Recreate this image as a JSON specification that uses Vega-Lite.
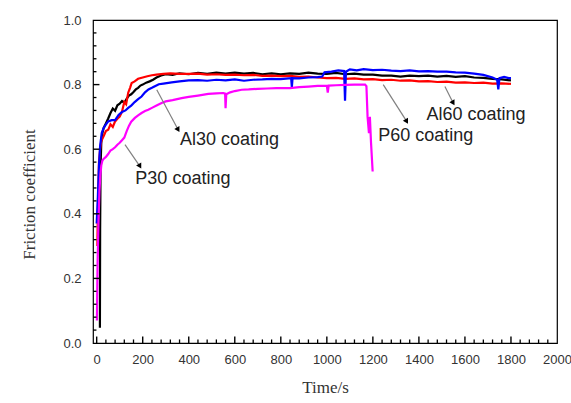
{
  "$schema": "https://vega.github.io/schema/vega-lite/v6.json",
  "width": 464,
  "height": 323,
  "autosize": "none",
  "padding": {"left": 93, "top": 20, "right": 14, "bottom": 60},
  "background": "white",
  "config": {"view": {"stroke": "#000", "strokeWidth": 1.2}},
  "datasets": {
    "black": [
      {"t":14,"v":0.047},{"t":15,"v":0.35},{"t":17,"v":0.55},{"t":20,"v":0.62},{"t":25,"v":0.65},{"t":30,"v":0.665},{"t":40,"v":0.68},{"t":50,"v":0.695},{"t":60,"v":0.712},{"t":70,"v":0.726},{"t":80,"v":0.719},{"t":90,"v":0.736},{"t":100,"v":0.741},{"t":110,"v":0.749},{"t":120,"v":0.744},{"t":130,"v":0.756},{"t":140,"v":0.766},{"t":150,"v":0.77},{"t":160,"v":0.777},{"t":170,"v":0.785},{"t":180,"v":0.79},{"t":190,"v":0.797},{"t":200,"v":0.8},{"t":215,"v":0.806},{"t":230,"v":0.81},{"t":245,"v":0.815},{"t":260,"v":0.822},{"t":280,"v":0.828},{"t":300,"v":0.832},{"t":330,"v":0.83},{"t":360,"v":0.835},{"t":400,"v":0.832},{"t":440,"v":0.836},{"t":480,"v":0.833},{"t":520,"v":0.837},{"t":560,"v":0.834},{"t":600,"v":0.837},{"t":640,"v":0.834},{"t":680,"v":0.836},{"t":720,"v":0.832},{"t":760,"v":0.835},{"t":800,"v":0.832},{"t":840,"v":0.835},{"t":880,"v":0.833},{"t":920,"v":0.837},{"t":960,"v":0.834},{"t":1000,"v":0.833},{"t":1040,"v":0.836},{"t":1080,"v":0.832},{"t":1120,"v":0.834},{"t":1160,"v":0.831},{"t":1200,"v":0.831},{"t":1240,"v":0.828},{"t":1280,"v":0.828},{"t":1320,"v":0.825},{"t":1360,"v":0.828},{"t":1400,"v":0.826},{"t":1440,"v":0.828},{"t":1480,"v":0.825},{"t":1520,"v":0.827},{"t":1560,"v":0.824},{"t":1600,"v":0.826},{"t":1640,"v":0.822},{"t":1680,"v":0.821},{"t":1720,"v":0.818},{"t":1760,"v":0.816},{"t":1800,"v":0.813}
    ],
    "red": [
      {"t":3,"v":0.3},{"t":6,"v":0.45},{"t":10,"v":0.56},{"t":15,"v":0.6},{"t":20,"v":0.625},{"t":30,"v":0.64},{"t":40,"v":0.656},{"t":50,"v":0.66},{"t":60,"v":0.677},{"t":70,"v":0.669},{"t":80,"v":0.686},{"t":90,"v":0.694},{"t":100,"v":0.701},{"t":110,"v":0.716},{"t":120,"v":0.746},{"t":128,"v":0.739},{"t":137,"v":0.775},{"t":145,"v":0.79},{"t":152,"v":0.805},{"t":165,"v":0.81},{"t":180,"v":0.818},{"t":200,"v":0.822},{"t":220,"v":0.826},{"t":240,"v":0.829},{"t":260,"v":0.831},{"t":290,"v":0.833},{"t":320,"v":0.835},{"t":360,"v":0.833},{"t":400,"v":0.833},{"t":440,"v":0.834},{"t":480,"v":0.831},{"t":520,"v":0.832},{"t":560,"v":0.83},{"t":600,"v":0.831},{"t":640,"v":0.829},{"t":680,"v":0.83},{"t":720,"v":0.827},{"t":760,"v":0.828},{"t":800,"v":0.826},{"t":840,"v":0.827},{"t":880,"v":0.824},{"t":920,"v":0.825},{"t":960,"v":0.822},{"t":1000,"v":0.82},{"t":1040,"v":0.821},{"t":1080,"v":0.818},{"t":1120,"v":0.819},{"t":1160,"v":0.816},{"t":1200,"v":0.817},{"t":1240,"v":0.814},{"t":1280,"v":0.815},{"t":1320,"v":0.812},{"t":1360,"v":0.813},{"t":1400,"v":0.81},{"t":1440,"v":0.811},{"t":1480,"v":0.808},{"t":1520,"v":0.809},{"t":1560,"v":0.806},{"t":1600,"v":0.807},{"t":1640,"v":0.805},{"t":1680,"v":0.806},{"t":1720,"v":0.803},{"t":1760,"v":0.804},{"t":1800,"v":0.802}
    ],
    "blue": [
      {"t":0,"v":0.37},{"t":5,"v":0.45},{"t":10,"v":0.55},{"t":15,"v":0.61},{"t":22,"v":0.65},{"t":30,"v":0.665},{"t":36,"v":0.672},{"t":50,"v":0.686},{"t":65,"v":0.69},{"t":80,"v":0.69},{"t":95,"v":0.706},{"t":110,"v":0.715},{"t":125,"v":0.72},{"t":137,"v":0.728},{"t":150,"v":0.735},{"t":165,"v":0.746},{"t":180,"v":0.755},{"t":195,"v":0.763},{"t":210,"v":0.776},{"t":225,"v":0.785},{"t":240,"v":0.79},{"t":253,"v":0.795},{"t":270,"v":0.801},{"t":290,"v":0.803},{"t":326,"v":0.807},{"t":360,"v":0.81},{"t":400,"v":0.813},{"t":440,"v":0.814},{"t":480,"v":0.812},{"t":520,"v":0.815},{"t":560,"v":0.813},{"t":600,"v":0.816},{"t":640,"v":0.812},{"t":680,"v":0.815},{"t":720,"v":0.816},{"t":760,"v":0.818},{"t":800,"v":0.817},{"t":845,"v":0.82},{"t":848,"v":0.792},{"t":851,"v":0.82},{"t":880,"v":0.819},{"t":920,"v":0.822},{"t":960,"v":0.823},{"t":980,"v":0.825},{"t":990,"v":0.838},{"t":1020,"v":0.84},{"t":1050,"v":0.844},{"t":1075,"v":0.842},{"t":1079,"v":0.75},{"t":1083,"v":0.84},{"t":1100,"v":0.847},{"t":1130,"v":0.844},{"t":1160,"v":0.848},{"t":1200,"v":0.845},{"t":1240,"v":0.846},{"t":1280,"v":0.843},{"t":1320,"v":0.842},{"t":1360,"v":0.844},{"t":1400,"v":0.841},{"t":1440,"v":0.842},{"t":1480,"v":0.84},{"t":1520,"v":0.84},{"t":1560,"v":0.838},{"t":1600,"v":0.837},{"t":1640,"v":0.834},{"t":1680,"v":0.83},{"t":1720,"v":0.822},{"t":1740,"v":0.815},{"t":1745,"v":0.785},{"t":1750,"v":0.82},{"t":1770,"v":0.824},{"t":1790,"v":0.82},{"t":1800,"v":0.82}
    ],
    "magenta": [
      {"t":1,"v":0.07},{"t":4,"v":0.25},{"t":8,"v":0.38},{"t":12,"v":0.47},{"t":16,"v":0.52},{"t":20,"v":0.55},{"t":25,"v":0.565},{"t":30,"v":0.57},{"t":40,"v":0.576},{"t":50,"v":0.585},{"t":60,"v":0.596},{"t":70,"v":0.6},{"t":80,"v":0.606},{"t":90,"v":0.614},{"t":100,"v":0.62},{"t":110,"v":0.628},{"t":120,"v":0.636},{"t":130,"v":0.655},{"t":140,"v":0.672},{"t":150,"v":0.685},{"t":166,"v":0.697},{"t":180,"v":0.705},{"t":195,"v":0.712},{"t":210,"v":0.718},{"t":224,"v":0.722},{"t":240,"v":0.728},{"t":260,"v":0.735},{"t":282,"v":0.743},{"t":300,"v":0.748},{"t":330,"v":0.752},{"t":369,"v":0.758},{"t":400,"v":0.762},{"t":440,"v":0.766},{"t":485,"v":0.771},{"t":520,"v":0.773},{"t":550,"v":0.774},{"t":558,"v":0.772},{"t":560,"v":0.727},{"t":563,"v":0.77},{"t":580,"v":0.776},{"t":600,"v":0.78},{"t":630,"v":0.784},{"t":660,"v":0.785},{"t":700,"v":0.787},{"t":740,"v":0.788},{"t":780,"v":0.789},{"t":840,"v":0.789},{"t":880,"v":0.792},{"t":920,"v":0.794},{"t":960,"v":0.796},{"t":1000,"v":0.797},{"t":1004,"v":0.775},{"t":1008,"v":0.797},{"t":1040,"v":0.798},{"t":1080,"v":0.799},{"t":1120,"v":0.8},{"t":1166,"v":0.8},{"t":1172,"v":0.795},{"t":1177,"v":0.7},{"t":1183,"v":0.65},{"t":1187,"v":0.7},{"t":1192,"v":0.62},{"t":1199,"v":0.531}
    ],
    "arrows": [
      {"x1":261,"y1":0.784,"x2":354,"y2":0.66},
      {"x1":123,"y1":0.614,"x2":188,"y2":0.547},
      {"x1":1245,"y1":0.8,"x2":1347,"y2":0.686},
      {"x1":1513,"y1":0.794,"x2":1549,"y2":0.743}
    ],
    "labels": [
      {"t":362,"v":0.63,"label":"Al30 coating"},
      {"t":168,"v":0.508,"label":"P30 coating"},
      {"t":1223,"v":0.642,"label":"P60 coating"},
      {"t":1433,"v":0.707,"label":"Al60 coating"}
    ],
    "xmajor": [{"v":0},{"v":200},{"v":400},{"v":600},{"v":800},{"v":1000},{"v":1200},{"v":1400},{"v":1600},{"v":1800}],
    "xminor": [{"v":40},{"v":80},{"v":120},{"v":160},{"v":240},{"v":280},{"v":320},{"v":360},{"v":440},{"v":480},{"v":520},{"v":560},{"v":640},{"v":680},{"v":720},{"v":760},{"v":840},{"v":880},{"v":920},{"v":960},{"v":1040},{"v":1080},{"v":1120},{"v":1160},{"v":1240},{"v":1280},{"v":1320},{"v":1360},{"v":1440},{"v":1480},{"v":1520},{"v":1560},{"v":1640},{"v":1680},{"v":1720},{"v":1760},{"v":1840},{"v":1880},{"v":1920},{"v":1960}],
    "ymajor": [{"v":0.2},{"v":0.4},{"v":0.6},{"v":0.8}],
    "yminor": [{"v":0.04},{"v":0.08},{"v":0.12},{"v":0.16},{"v":0.24},{"v":0.28},{"v":0.32},{"v":0.36},{"v":0.44},{"v":0.48},{"v":0.52},{"v":0.56},{"v":0.64},{"v":0.68},{"v":0.72},{"v":0.76},{"v":0.84},{"v":0.88},{"v":0.92},{"v":0.96}]
  },
  "layer": [
    {
      "data": {"name": "black"},
      "mark": {"type": "line", "color": "#000000", "strokeWidth": 2.2, "clip": true},
      "encoding": {
        "x": {"field": "t", "type": "quantitative",
              "scale": {"domain": [-16, 2000], "nice": false, "zero": false},
              "axis": {"orient": "bottom", "ticks": false, "values": [0,200,400,600,800,1000,1200,1400,1600,1800,2000], "format": "d",
                       "domain": false, "grid": false,
                       "labelFont": "Liberation Sans", "labelFontSize": 13, "labelColor": "#333",
                       "labelPadding": 10, "labelFlush": false, "labelOverlap": false,
                       "title": "Time/s", "titleFont": "Liberation Serif", "titleFontSize": 17,
                       "titleFontWeight": "normal", "titleColor": "#333", "titleY": 44, "titleBaseline": "middle"}},
        "y": {"field": "v", "type": "quantitative",
              "scale": {"domain": [0, 1], "nice": false},
              "axis": {"orient": "left", "ticks": false, "values": [0,0.2,0.4,0.6,0.8,1.0], "format": ".1f",
                       "domain": false, "grid": false,
                       "labelFont": "Liberation Sans", "labelFontSize": 13, "labelColor": "#333",
                       "labelPadding": 12, "labelFlush": false, "labelOverlap": false,
                       "title": "Friction coefficient", "titleFont": "Liberation Serif", "titleFontSize": 17,
                       "titleFontWeight": "normal", "titleColor": "#333", "titleX": -64, "titleY": 174,
                       "titleBaseline": "middle", "titleAlign": "center"}}
      }
    },
    {
      "data": {"name": "red"},
      "mark": {"type": "line", "color": "#ff0000", "strokeWidth": 2.2, "clip": true},
      "encoding": {
        "x": {"field": "t", "type": "quantitative"},
        "y": {"field": "v", "type": "quantitative"}
      }
    },
    {
      "data": {"name": "blue"},
      "mark": {"type": "line", "color": "#0000ff", "strokeWidth": 2.2, "clip": true},
      "encoding": {
        "x": {"field": "t", "type": "quantitative"},
        "y": {"field": "v", "type": "quantitative"}
      }
    },
    {
      "data": {"name": "magenta"},
      "mark": {"type": "line", "color": "#ff00ff", "strokeWidth": 2.2, "clip": true},
      "encoding": {
        "x": {"field": "t", "type": "quantitative"},
        "y": {"field": "v", "type": "quantitative"}
      }
    },
    {
      "data": {"name": "xmajor"},
      "mark": {"type": "rule", "color": "#000", "strokeWidth": 1.4},
      "encoding": {
        "x": {"field": "v", "type": "quantitative"},
        "y": {"datum": 0},
        "y2": {"datum": 0.02}
      }
    },
    {
      "data": {"name": "xminor"},
      "mark": {"type": "rule", "color": "#000", "strokeWidth": 1.3},
      "encoding": {
        "x": {"field": "v", "type": "quantitative"},
        "y": {"datum": 0},
        "y2": {"datum": 0.011}
      }
    },
    {
      "data": {"name": "ymajor"},
      "mark": {"type": "rule", "color": "#000", "strokeWidth": 1.4},
      "encoding": {
        "y": {"field": "v", "type": "quantitative"},
        "x": {"datum": -16},
        "x2": {"datum": 12}
      }
    },
    {
      "data": {"name": "yminor"},
      "mark": {"type": "rule", "color": "#000", "strokeWidth": 1.3},
      "encoding": {
        "y": {"field": "v", "type": "quantitative"},
        "x": {"datum": -16},
        "x2": {"datum": -1}
      }
    },
    {
      "data": {"name": "arrows"},
      "mark": {"type": "rule", "color": "#808080", "strokeWidth": 1.2},
      "encoding": {
        "x": {"field": "x1", "type": "quantitative"},
        "y": {"field": "y1", "type": "quantitative"},
        "x2": {"field": "x2"},
        "y2": {"field": "y2"}
      }
    },
    {
      "data": {"name": "arrows"},
      "mark": {"type": "point", "shape": "triangle-down", "filled": true, "color": "#000", "size": 35, "angle": 330, "opacity": 1},
      "encoding": {
        "x": {"field": "x2", "type": "quantitative"},
        "y": {"field": "y2", "type": "quantitative"}
      }
    },
    {
      "data": {"name": "labels"},
      "mark": {"type": "text", "align": "left", "baseline": "middle", "font": "Liberation Sans", "fontSize": 18, "color": "#222"},
      "encoding": {
        "x": {"field": "t", "type": "quantitative"},
        "y": {"field": "v", "type": "quantitative"},
        "text": {"field": "label"}
      }
    }
  ]
}
